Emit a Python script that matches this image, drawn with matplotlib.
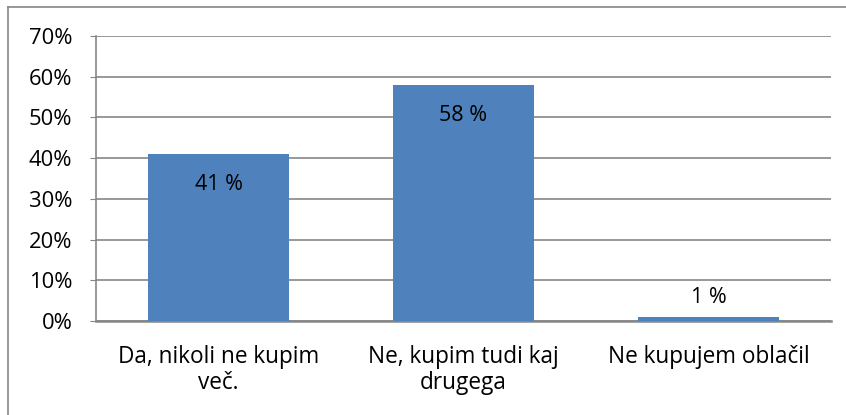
import matplotlib
matplotlib.use("Agg")
import matplotlib.pyplot as plt
from matplotlib.lines import Line2D

categories = ["Da, nikoli ne kupim\nveč.", "Ne, kupim tudi kaj\ndrugega", "Ne kupujem oblačil"]
values = [41, 58, 1]
value_labels = ["41 %", "58 %", "1 %"]
yticks = [0, 10, 20, 30, 40, 50, 60, 70]

plt.rcParams['font.family'] = ['Open Sans', 'DejaVu Sans']

W, H = 846, 415
fig = plt.figure(figsize=(W / 100, H / 100), dpi=100)
ax = fig.add_axes([96 / W, 1 - 321 / H, (831 - 96) / W, (321 - 36) / H])

bar_color = '#4F81BD'
grid_color = '#868686'
FS = 16.3
x = list(range(len(categories)))
bars = ax.bar(x, values, width=0.575, color=bar_color, zorder=3)

ax.set_ylim(0, 70)
ax.set_xlim(-0.5, len(categories) - 0.5)
ax.set_yticks(yticks)
ax.set_yticklabels([f"{t}%" for t in yticks], fontsize=15.8)
ax.set_xticks(x)
ax.set_xticklabels(categories, fontsize=FS, linespacing=1.12, va='top')
ax.tick_params(axis='x', length=0, pad=17)
ax.tick_params(axis='y', length=4, direction='out', color=grid_color, pad=13)
for lbl in ax.get_yticklabels():
    lbl.set_horizontalalignment('right')

ax.yaxis.grid(True, color=grid_color, linewidth=1.2, zorder=0)
ax.set_axisbelow(True)
for s in ['top', 'right']:
    ax.spines[s].set_visible(False)
ax.spines['left'].set_color(grid_color)
ax.spines['bottom'].set_color(grid_color)
ax.spines['left'].set_linewidth(1.2)
ax.spines['bottom'].set_linewidth(1.8)

for xi, v, lab in zip(x, values, value_labels):
    if v > 10:
        ax.annotate(lab, (xi, v), xytext=(0, -22), textcoords='offset points',
                    ha='center', va='center', fontsize=15.5, zorder=4)
    else:
        ax.annotate(lab, (xi, v), xytext=(0, 14), textcoords='offset points',
                    ha='center', va='center', fontsize=15.5, zorder=4)

# outer chart border (left and top visible)
fig.add_artist(Line2D([7.5 / W, 7.5 / W], [0, 1 - 7.5 / H], transform=fig.transFigure,
                      color=grid_color, linewidth=1.2))
fig.add_artist(Line2D([7.5 / W, 1], [1 - 7.5 / H, 1 - 7.5 / H], transform=fig.transFigure,
                      color=grid_color, linewidth=1.2))

fig.savefig("out.png", dpi=100)
